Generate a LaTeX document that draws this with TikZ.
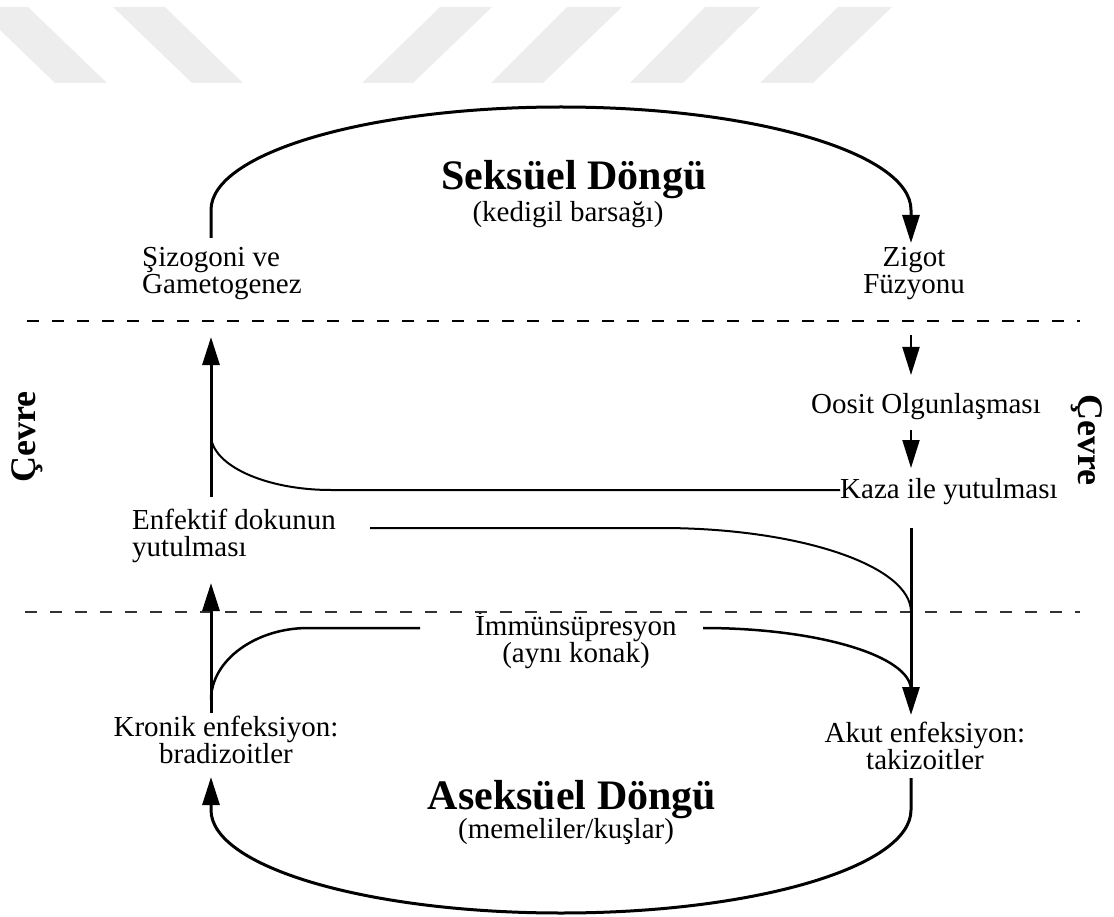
\documentclass[tikz,border=0pt]{standalone}
\usepackage{fontspec}
\setmainfont{Liberation Serif}
\usetikzlibrary{arrows.meta}
\begin{document}
\begin{tikzpicture}[x=1pt,y=-1pt,
  lbl/.style={inner sep=0pt, font=\fontsize{29}{27}\selectfont},
  ttl/.style={inner sep=0pt, font=\fontsize{42}{42}\selectfont\bfseries},
  side/.style={inner sep=0pt, font=\fontsize{36}{36}\selectfont\bfseries},
  tip/.style={-{Triangle[length=28pt,width=17pt]}},
  bigarrow/.style={line width=3pt, tip},
  midarrow/.style={line width=2pt, tip},
  conn/.style={line width=2pt},
  zone/.style={line width=2pt, dash pattern=on 12pt off 13pt},
  wm/.style={fill=black!7, draw=none},
]
\useasboundingbox (0,0) rectangle (1114,917);
% watermark stripes
\fill[wm] (0,7) -- (28,7) -- (107,83) -- (55,83) -- (0,30) -- cycle;
\fill[wm] (113,7) -- (165,7) -- (243,83) -- (192,83) -- cycle;
\fill[wm] (440,7) -- (492,7) -- (413,83) -- (362,83) -- cycle;
\fill[wm] (567,7) -- (622,7) -- (543,83) -- (491,83) -- cycle;
\fill[wm] (705,7) -- (760,7) -- (683,83) -- (630,83) -- cycle;
\fill[wm] (838,7) -- (892,7) -- (813,83) -- (760,83) -- cycle;

% texts (multi-line nodes: base = baseline of last line)
\node[ttl, anchor=base] (sex) at (574,190) {Seksüel Döngü};
\node[lbl, anchor=base] (sexhost) at (568,222) {(kedigil barsağı)};
\node[lbl, anchor=base west, align=left] (siz) at (142,294) {Şizogoni ve\\Gametogenez};
\node[lbl, anchor=base, align=center] (zig) at (914,294) {Zigot\\Füzyonu};
\node[lbl, anchor=base] (oos) at (926,413) {Oosit Olgunlaşması};
\node[lbl, anchor=base west] (kaza) at (840,498) {Kaza ile yutulması};
\node[lbl, anchor=base west, align=left] (enf) at (132,556) {Enfektif dokunun\\yutulması};
\node[lbl, anchor=base, align=center] (imm) at (576,662) {İmmünsüpresyon\\(aynı konak)};
\node[lbl, anchor=base, align=center] (kron) at (226,763) {Kronik enfeksiyon:\\bradizoitler};
\node[lbl, anchor=base, align=center] (akut) at (925,769) {Akut enfeksiyon:\\takizoitler};
\node[ttl, anchor=base] (asex) at (572,809) {Aseksüel Döngü};
\node[lbl, anchor=base] (asexhost) at (566,838) {(memeliler/kuşlar)};
\node[side, rotate=90] (cevL) at (27,437) {Çevre};
\node[side, rotate=-90] (cevR) at (1087,440) {Çevre};

% zone borders
\coordinate (zoneTL) at (27,321);
\coordinate (zoneTR) at (1080,321);
\coordinate (zoneBL) at (25,612);
\coordinate (zoneBR) at (1080,612);
\draw[zone] (zoneTL) -- (zoneTR);
\draw[zone, line width=1.8pt, black!80] (zoneBL) -- (zoneBR);

% connector end points
\coordinate (sizTop) at (211,238);
\coordinate (zigTop) at (911,243);
\coordinate (zigBot) at (911,335);
\coordinate (oosTop) at (911,375);
\coordinate (oosBot) at (911,430);
\coordinate (kazaTop) at (911,468);
\coordinate (kazaLeft) at (840,490);
\coordinate (kazaBot) at (911,528);
\coordinate (sizBot) at (211,337);
\coordinate (enfTop) at (211,497);
\coordinate (enfRight) at (370,528);
\coordinate (enfBot) at (211,583);
\coordinate (immLeft) at (420,628);
\coordinate (immRight) at (703,628);
\coordinate (kronTop) at (211,713);
\coordinate (kronBot) at (211,777);
\coordinate (akutTop) at (911,715);
\coordinate (akutBot) at (911,778);

% sexual cycle arc
\draw[bigarrow] (sizTop) -- (211,210) .. controls (211,153.1) and (367.7,107) .. (561,107)
  .. controls (754.3,107) and (911,153.1) .. (911,210) -- (zigTop);
\draw[midarrow] (zigBot) -- (oosTop);
\draw[midarrow] (oosBot) -- (kazaTop);
% accidental ingestion back to sizogoni
\draw[conn] (kazaLeft) -- (331,490) .. controls (265,490) and (211,465) .. (211,435);
\draw[bigarrow] (enfTop) -- (sizBot);
% infective tissue to acute
\draw[conn] (enfRight) -- (661,528) .. controls (799,528) and (911,565.6) .. (911,612);
\draw[bigarrow] (kazaBot) -- (akutTop);
% immunosuppression
\draw[line width=2.5pt] (immRight) .. controls (818,628) and (911,656) .. (911,690);
\draw[line width=2.5pt] (immLeft) -- (308,628) .. controls (256,628) and (211,660) .. (211,700);
\draw[bigarrow] (kronTop) -- (enfBot);
% asexual cycle arc
\draw[bigarrow] (akutBot) -- (911,810) .. controls (911,866.9) and (754.3,913) .. (561,913)
  .. controls (367.7,913) and (211,866.9) .. (211,810) -- (kronBot);
\end{tikzpicture}
\end{document}
